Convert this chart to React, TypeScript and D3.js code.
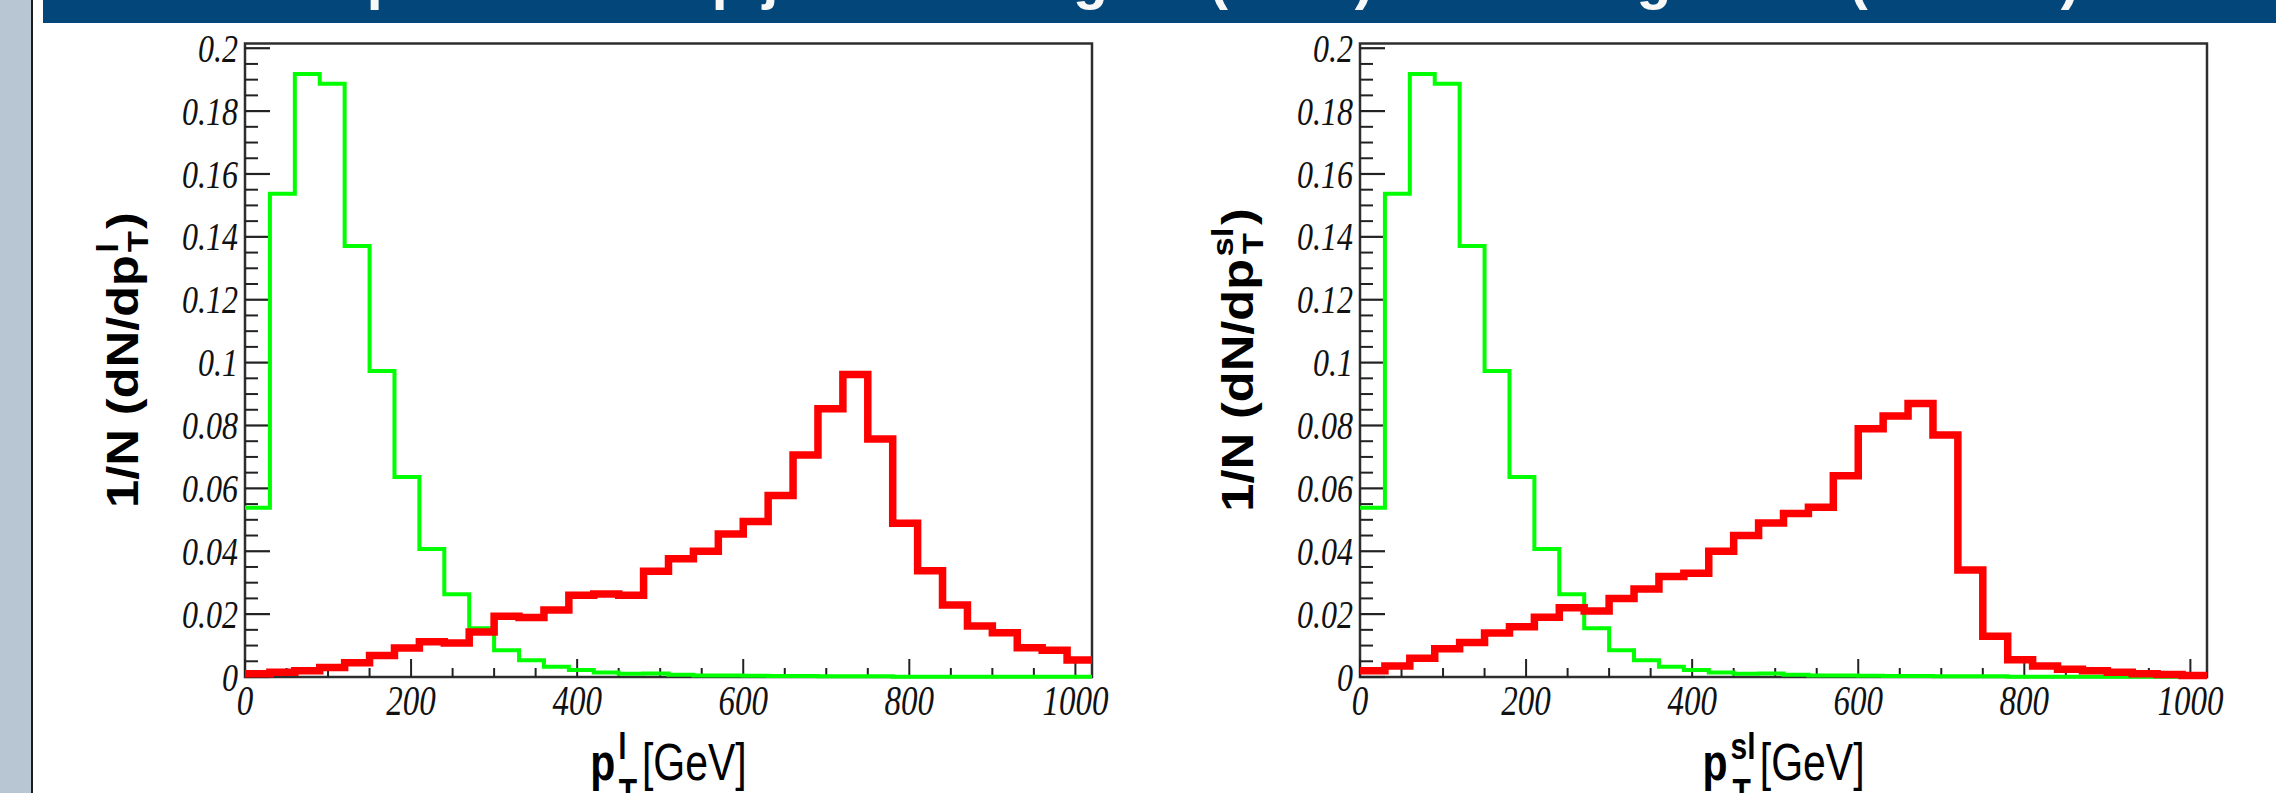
import React from 'react';
import * as d3 from 'd3';

const W = 2276;
const H = 793;

// bin lower edges (GeV), 30 GeV bins, 0..1020
const binLow = [0, 30, 60, 90, 120, 150, 180, 210, 240, 270, 300, 330, 360, 390, 420, 450, 480, 510,
  540, 570, 600, 630, 660, 690, 720, 750, 780, 810, 840, 870, 900, 930, 960, 990];
const xDomain = [0, 1020];
const yMax = 0.2015;

const xTickLabels = ['0', '200', '400', '600', '800', '1000'];
const xTickValues = [0, 200, 400, 600, 800, 1000];
const yTickLabels = ['0', '0.02', '0.04', '0.06', '0.08', '0.1', '0.12', '0.14', '0.16', '0.18', '0.2'];
const yTickValues = [0, 0.02, 0.04, 0.06, 0.08, 0.1, 0.12, 0.14, 0.16, 0.18, 0.2];

// left panel: leading lepton pT
const greenLeft = [0.0538, 0.1537, 0.1918, 0.1887, 0.1371, 0.0973, 0.0636, 0.0407, 0.0263, 0.0155,
  0.0085, 0.0053, 0.0033, 0.0022, 0.0014, 0.0010, 0.0011, 0.0007, 0.0005, 0.0005, 0.0004, 0.0003,
  0.0003, 0.0002, 0.0002, 0.0002, 0.0001, 0.0001, 0.0001, 0.0001, 0.0001, 0.0001, 0.0001, 0.00005];
const redLeft = [0.0010, 0.0015, 0.0020, 0.0030, 0.0045, 0.0068, 0.0092, 0.0112, 0.0108, 0.0143,
  0.0193, 0.0189, 0.0213, 0.0260, 0.0264, 0.0260, 0.0336, 0.0376, 0.0400, 0.0455, 0.0495, 0.0577,
  0.0706, 0.0853, 0.0962, 0.0757, 0.0489, 0.0338, 0.0229, 0.0162, 0.0141, 0.0093, 0.0085, 0.0054];

// right panel: subleading lepton pT
const greenRight = [0.0538, 0.1537, 0.1918, 0.1887, 0.1371, 0.0973, 0.0636, 0.0407, 0.0263, 0.0155,
  0.0085, 0.0053, 0.0033, 0.0022, 0.0014, 0.0010, 0.0011, 0.0007, 0.0005, 0.0005, 0.0004, 0.0003,
  0.0003, 0.0002, 0.0002, 0.0002, 0.0001, 0.0001, 0.0001, 0.0001, 0.0001, 0.0001, 0.0001, 0.00005];
const redRight = [0.0020, 0.0035, 0.0060, 0.0090, 0.0110, 0.0140, 0.0160, 0.0190, 0.0220, 0.0210,
  0.0250, 0.0280, 0.0320, 0.0330, 0.0400, 0.0450, 0.0490, 0.0520, 0.0540, 0.0640, 0.0790, 0.0830,
  0.0870, 0.0770, 0.0340, 0.0130, 0.0055, 0.0035, 0.0025, 0.0020, 0.0015, 0.0010, 0.0008, 0.0005];

const TITLE = 'Comparison of top jets from region (BSM) and background (control)';

const TOP = 43.5;
const BOTTOM = 677;
const SANS = "'Liberation Sans', Arial, Helvetica, sans-serif";
const SERIF = "'Liberation Serif', 'Times New Roman', serif";
const STRETCH = 1.28;

function histPath(vals: number[], x: d3.ScaleLinear<number, number>, y: d3.ScaleLinear<number, number>) {
  const pts: [number, number][] = binLow.map((b, i) => [x(b), y(vals[i])]);
  pts.push([x(xDomain[1]), y(vals[vals.length - 1])]);
  return d3.line().curve(d3.curveStepAfter)(pts) || '';
}

function Panel({ fl, fr, green, red, sup }: { fl: number; fr: number; green: number[]; red: number[]; sup: string }) {
  const x = d3.scaleLinear().domain(xDomain).range([fl, fr]);
  const y = d3.scaleLinear().domain([0, yMax]).range([BOTTOM, TOP]);
  const yMinor = y.ticks(40).filter((t) => Math.abs(t / 0.02 - Math.round(t / 0.02)) > 1e-6);
  const xMinor = x.ticks(20).filter((t) => t % 200 !== 0);
  const supW = sup.length > 1 ? 23 : 8;
  const cx = (fl + fr) / 2;
  return (
    <g>
      <rect x={fl} y={TOP} width={fr - fl} height={BOTTOM - TOP} fill="#fff" stroke="#2e2e2e" strokeWidth={2.5} />
      {yTickValues.map((v) => (
        <line key={'ym' + v} x1={fl} x2={fl + 25} y1={y(v)} y2={y(v)} stroke="#222" strokeWidth={2.2} />
      ))}
      {yMinor.map((v) => (
        <line key={'yn' + v} x1={fl} x2={fl + 13} y1={y(v)} y2={y(v)} stroke="#222" strokeWidth={2} />
      ))}
      {xTickValues.map((v) => (
        <line key={'xm' + v} x1={x(v)} x2={x(v)} y1={BOTTOM} y2={BOTTOM - 18} stroke="#222" strokeWidth={2} />
      ))}
      {xMinor.map((v) => (
        <line key={'xn' + v} x1={x(v)} x2={x(v)} y1={BOTTOM} y2={BOTTOM - 9} stroke="#222" strokeWidth={2} />
      ))}
      {yTickValues.map((v, i) => (
        <text key={'yl' + v} transform={`translate(${fl - 7},${y(v)}) scale(1,${STRETCH})`} textAnchor="end"
          dy="0.33em" fontFamily={SERIF} fontStyle="italic" fontSize={32} fill="#111">{yTickLabels[i]}</text>
      ))}
      {xTickValues.map((v, i) => (
        <text key={'xl' + v} transform={`translate(${x(v)},715) scale(1,${STRETCH})`} textAnchor="middle"
          fontFamily={SERIF} fontStyle="italic" fontSize={33} fill="#111">{xTickLabels[i]}</text>
      ))}
      <path d={histPath(green, x, y)} fill="none" stroke="#00ff00" strokeWidth={4} strokeLinejoin="miter" />
      <path d={histPath(red, x, y)} fill="none" stroke="#ff0000" strokeWidth={7.5} strokeLinejoin="miter" />
      {/* x title */}
      <text transform={`translate(${cx},780) scale(1,1.26)`} textAnchor="middle" fontFamily={SANS} fontSize={41} fill="#000">
        <tspan fontWeight="bold">p</tspan>
        <tspan fontWeight="bold" fontSize={30} dx={3} dy={-17}>{sup}</tspan>
        <tspan fontWeight="bold" fontSize={30} dx={-supW} dy={37}>T</tspan>
        <tspan dx={sup.length > 1 ? 9 : 5} dy={-20}>[GeV]</tspan>
      </text>
      {/* y title */}
      <text transform={`translate(${fl - 107},360) rotate(-90) scale(1.15,1)`} textAnchor="middle" fontFamily={SANS}
        fontWeight="bold" fontSize={44} fill="#000">
        1/N (dN/dp
        <tspan fontSize={30} dx={2} dy={-20}>{sup}</tspan>
        <tspan fontSize={30} dx={-supW} dy={30}>T</tspan>
        <tspan dx={sup.length > 1 ? 7 : 2} dy={-10}>)</tspan>
      </text>
    </g>
  );
}

export default function App() {
  return (
    <svg width={W} height={H} viewBox={`0 0 ${W} ${H}`} style={{ position: 'absolute', left: 0, top: 0, display: 'block' }}>
      <defs>
        <clipPath id="bandClip">
          <rect x={43} y={0} width={W - 43} height={23} />
        </clipPath>
      </defs>
      <rect x={0} y={0} width={W} height={H} fill="#ffffff" />
      <rect x={0} y={0} width={31} height={H} fill="#b8c5d2" />
      <rect x={31} y={0} width={2} height={H} fill="#1c1c1c" />
      <rect x={43} y={0} width={W - 43} height={23} fill="#02467a" />
      <g clipPath="url(#bandClip)">
        <text x={240} y={-2} dominantBaseline="alphabetic" fontFamily={SANS} fontWeight="bold" fontSize={57}
          fill="#f8f8f8">{TITLE}</text>
      </g>
      <Panel fl={245} fr={1092} green={greenLeft} red={redLeft} sup="l" />
      <Panel fl={1360} fr={2207} green={greenRight} red={redRight} sup="sl" />
    </svg>
  );
}
